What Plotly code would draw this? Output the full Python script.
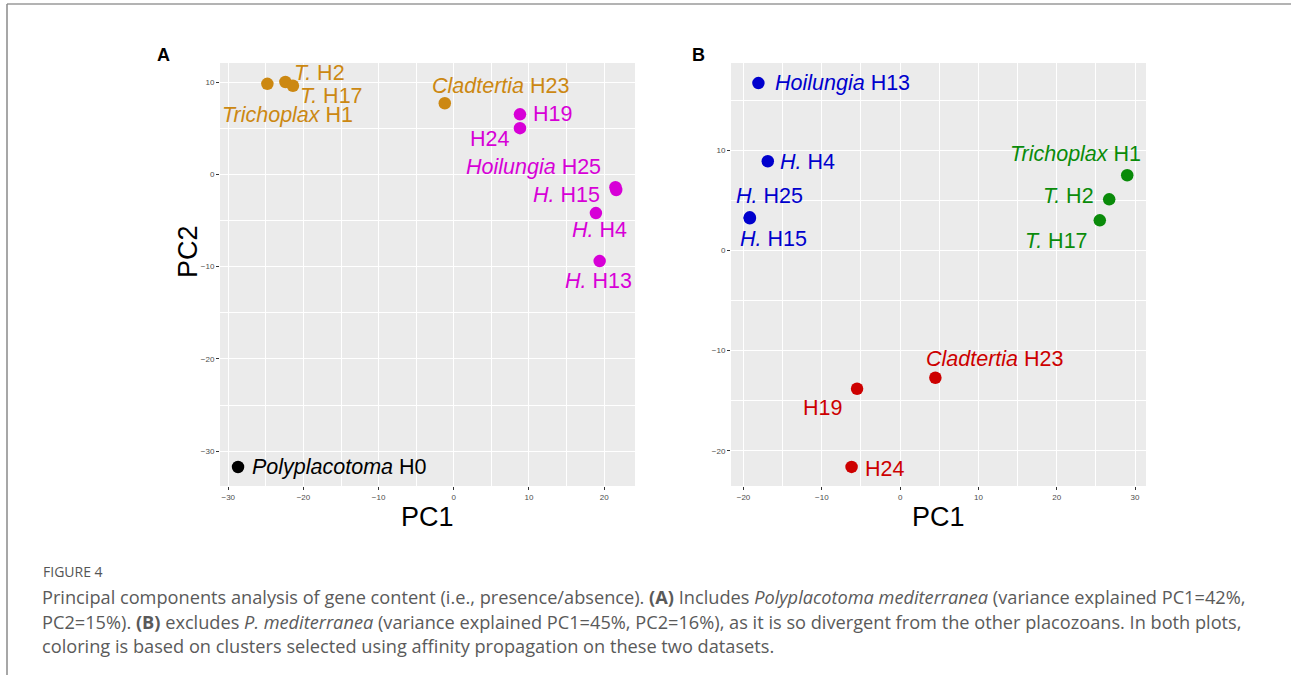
import plotly.graph_objects as go

W, H = 1291, 675

# ---------------- data ----------------
# Panel A (includes Polyplacotoma)
genus_a = ["Polyplacotoma", "Trichoplax", "T.", "T.", "Cladtertia", "", "", "Hoilungia", "H.", "H.", "H."]
hap_a = ["H0", "H1", "H2", "H17", "H23", "H19", "H24", "H25", "H15", "H4", "H13"]
pc1_a = [-28.7, -24.8, -22.4, -21.4, -1.2, 8.8, 8.8, 21.5, 21.6, 18.9, 19.4]
pc2_a = [-31.7, 9.8, 10.0, 9.6, 7.7, 6.5, 5.0, -1.4, -1.7, -4.2, -9.4]
cluster_a = ["P", "T", "T", "T", "T", "H", "H", "H", "H", "H", "H"]

# Panel B (excludes Polyplacotoma)
genus_b = ["Hoilungia", "H.", "H.", "H.", "Trichoplax", "T.", "T.", "Cladtertia", "", ""]
hap_b = ["H13", "H4", "H25", "H15", "H1", "H2", "H17", "H23", "H19", "H24"]
pc1_b = [-18.1, -16.9, -19.2, -19.2, 29.0, 26.7, 25.5, 4.5, -5.5, -6.2]
pc2_b = [16.7, 8.9, 3.3, 3.2, 7.5, 5.1, 3.0, -12.7, -13.8, -21.6]
cluster_b = ["H", "H", "H", "H", "T", "T", "T", "C", "C", "C"]

caption_head = "FIGURE 4"
caption_lines = [
    "Principal components analysis of gene content (i.e., presence/absence). <b>(A)</b> Includes <i>Polyplacotoma mediterranea</i> (variance explained PC1=42%,",
    "PC2=15%). <b>(B)</b> excludes <i>P. mediterranea</i> (variance explained PC1=45%, PC2=16%), as it is so divergent from the other placozoans. In both plots,",
    "coloring is based on clusters selected using affinity propagation on these two datasets.",
]

# ---------------- styles ----------------
colors_a = {"P": "#000000", "T": "#CC8812", "H": "#D700D7"}
colors_b = {"H": "#0000CD", "T": "#0A8B0A", "C": "#CD0000"}

# label placement: (anchor, dx px, dy px downward)
label_pos_a = {
    "H0": ("left", 12, 0), "H1": ("center", 20, 31), "H2": ("center", 34, -9),
    "H17": ("left", 5, 10), "H23": ("center", 56, -17), "H19": ("left", 11, 0),
    "H24": ("right", -9, 11), "H25": ("right", -12, -20), "H15": ("right", -14, 5),
    "H4": ("center", 4, 17), "H13": ("center", -1, 20),
}
label_pos_b = {
    "H13": ("left", 15, 0), "H4": ("left", 10, 1), "H25": ("center", 20, -21),
    "H15": ("center", 24, 21), "H1": ("center", -52, -21), "H2": ("right", -13, -3),
    "H17": ("right", -10, 21), "H23": ("center", 59, -19), "H19": ("right", -13, 19),
    "H24": ("left", 11, 2),
}

FONT = "Liberation Sans, Arial, sans-serif"
LABEL_SIZE = 21.5

# plot-area pixel boxes
boxA = dict(x0=220, x1=635, y0=63, y1=486)
boxB = dict(x0=731, x1=1146, y0=63, y1=486)


def xd(b):
    return [b["x0"] / W, b["x1"] / W]


def yd(b):
    return [1 - b["y1"] / H, 1 - b["y0"] / H]


fig = go.Figure()

fig.add_trace(go.Scatter(
    x=pc1_a, y=pc2_a, mode="markers", xaxis="x", yaxis="y",
    marker=dict(size=12.5, color=[colors_a[c] for c in cluster_a]),
    hoverinfo="skip", showlegend=False))
fig.add_trace(go.Scatter(
    x=pc1_b, y=pc2_b, mode="markers", xaxis="x2", yaxis="y2",
    marker=dict(size=12.5, color=[colors_b[c] for c in cluster_b]),
    hoverinfo="skip", showlegend=False))

annotations = []


def add_labels(genus, hap, xs, ys, clusters, cmap, pos, xref, yref):
    for g, h, x, y, c in zip(genus, hap, xs, ys, clusters):
        anchor, dx, dy = pos[h]
        txt = (f"<i>{g}</i> {h}" if g else h)
        annotations.append(dict(
            x=x, y=y, xref=xref, yref=yref, text=txt, showarrow=False,
            xanchor=anchor, yanchor="middle", xshift=dx, yshift=-dy,
            font=dict(family=FONT, size=LABEL_SIZE, color=cmap[c])))


add_labels(genus_a, hap_a, pc1_a, pc2_a, cluster_a, colors_a, label_pos_a, "x", "y")
add_labels(genus_b, hap_b, pc1_b, pc2_b, cluster_b, colors_b, label_pos_b, "x2", "y2")

# panel letters
annotations.append(dict(x=163 / W, y=1 - 55 / H, xref="paper", yref="paper", text="<b>A</b>",
                        showarrow=False, xanchor="center", yanchor="middle",
                        font=dict(family=FONT, size=18, color="black")))
annotations.append(dict(x=698 / W, y=1 - 55 / H, xref="paper", yref="paper", text="<b>B</b>",
                        showarrow=False, xanchor="center", yanchor="middle",
                        font=dict(family=FONT, size=18, color="black")))

# axis titles
for b in (boxA, boxB):
    annotations.append(dict(x=(b["x0"] + b["x1"]) / 2 / W, y=1 - 517 / H, xref="paper", yref="paper",
                            text="PC1", showarrow=False, xanchor="center", yanchor="middle",
                            font=dict(family=FONT, size=27, color="black")))
annotations.append(dict(x=188 / W, y=1 - 252 / H, xref="paper", yref="paper", text="PC2",
                        showarrow=False, xanchor="center", yanchor="middle", textangle=-90,
                        font=dict(family=FONT, size=27, color="black")))

# caption
CAP_FONT = "Open Sans, sans-serif"
annotations.append(dict(x=41 / W, y=1 - 571 / H, xref="paper", yref="paper", text=caption_head,
                        showarrow=False, xanchor="left", yanchor="middle",
                        font=dict(family=CAP_FONT, size=14, color="#555555")))
for i, line in enumerate(caption_lines):
    annotations.append(dict(x=40 / W, y=1 - (597 + 24.5 * i) / H, xref="paper", yref="paper",
                            text=line, showarrow=False, xanchor="left", yanchor="middle",
                            font=dict(family=CAP_FONT, size=18.2, color="#5a5a5a")))


def axis_style(domain, rng, anchor):
    return dict(
        domain=domain, range=rng, anchor=anchor,
        tickmode="linear", tick0=0, dtick=10,
        showgrid=True, gridcolor="white", gridwidth=1.2,
        zeroline=False, showline=False,
        ticks="outside", ticklen=3, tickwidth=1, tickcolor="#333333",
        tickfont=dict(family=FONT, size=8, color="#4D4D4D"),
        minor=dict(showgrid=True, gridcolor="white", gridwidth=0.7, dtick=5, tick0=0),
        fixedrange=True,
    )


xa = axis_style(xd(boxA), [-31.1, 24.1], "y")
ya = axis_style(yd(boxA), [-33.76, 12.06], "x")
xb = axis_style(xd(boxB), [-21.6, 31.4], "y2")
yb = axis_style(yd(boxB), [-23.5, 18.7], "x2")

shapes = [
    dict(type="rect", xref="paper", yref="paper", x0=boxA["x0"] / W, x1=boxA["x1"] / W,
         y0=1 - boxA["y1"] / H, y1=1 - boxA["y0"] / H, fillcolor="#EBEBEB", line=dict(width=0), layer="below"),
    dict(type="rect", xref="paper", yref="paper", x0=boxB["x0"] / W, x1=boxB["x1"] / W,
         y0=1 - boxB["y1"] / H, y1=1 - boxB["y0"] / H, fillcolor="#EBEBEB", line=dict(width=0), layer="below"),
    dict(type="line", xref="paper", yref="paper", x0=7 / W, x1=1, y0=1 - 4 / H, y1=1 - 4 / H,
         line=dict(color="#9a9a9a", width=1.5)),
    dict(type="line", xref="paper", yref="paper", x0=7 / W, x1=7 / W, y0=0, y1=1 - 4 / H,
         line=dict(color="#8a8a8a", width=1.5)),
]

fig.update_layout(
    width=W, height=H, margin=dict(l=0, r=0, t=0, b=0),
    paper_bgcolor="white", plot_bgcolor="#EBEBEB",
    xaxis=xa, yaxis=ya, xaxis2=xb, yaxis2=yb,
    annotations=annotations, shapes=shapes, showlegend=False,
)

fig.write_html("out.html", config={"displayModeBar": False},
               post_script="document.body.style.margin='0';document.body.style.overflow='hidden';")
